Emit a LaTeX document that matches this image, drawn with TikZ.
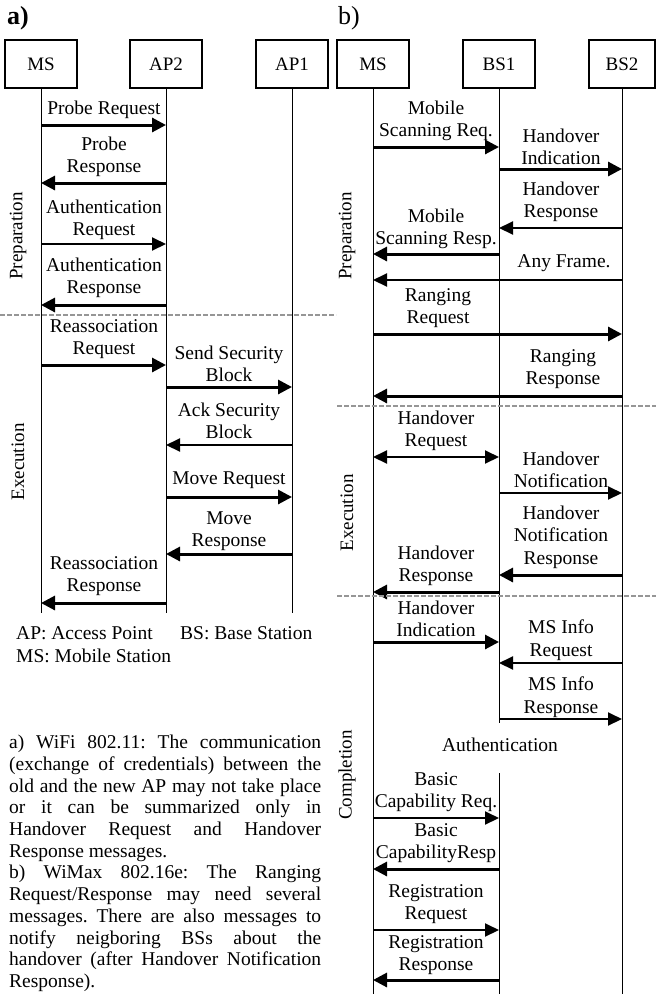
\documentclass[tikz,border=0pt]{standalone}
\usepackage{fontspec}
\setmainfont{Liberation Serif}
\usetikzlibrary{arrows.meta}
\definecolor{sepgray}{RGB}{150,150,150}

\tikzset{
  actor/.style={draw,line width=1.5pt,minimum width=72pt,minimum height=48pt,inner sep=0pt,font=\fontsize{19}{22}\selectfont},
  life/.style={line width=1pt},
  msg/.style={line width=3pt,-{Triangle[length=14pt,width=14pt]}},
  msgthin/.style={line width=2pt,-{Triangle[length=14pt,width=13pt]}},
  msgboth/.style={line width=2pt,{Triangle[length=14pt,width=13pt]}-{Triangle[length=14pt,width=13pt]}},
  lbl/.style={align=center,inner sep=0pt,font=\fontsize{19.5}{22.5}\selectfont},
  phase/.style={rotate=90,inner sep=0pt,font=\fontsize{19}{22}\selectfont},
  sep/.style={sepgray,line width=1.5pt,dash pattern=on 5pt off 2pt},
}

\begin{document}
\begin{tikzpicture}[x=1pt,y=-1pt]
\useasboundingbox (0,0) rectangle (656,994);

% a) WiFi 802.11
\node[font=\fontsize{26}{28}\selectfont\bfseries] (ta) at (18,18) {a)};
\foreach \n/\x/\t in {MSa/41/MS,AP2/166/AP2,AP1/292/AP1} {
  \node[actor] (\n) at (\x,64) {\t};
  \coordinate (\n-end) at (\x,613);
  \draw[life] (\n) -- (\n-end);
}
\foreach \y/\a/\b/\s/\lx/\ly/\t in {
  125/MSa/AP2/msg/104/110/{Probe Request},
  183/AP2/MSa/msg/104/157/{Probe\\Response},
  244/MSa/AP2/msgthin/104/220/{Authentication\\Request},
  305/AP2/MSa/msg/104/278/{Authentication\\Response},
  365/MSa/AP2/msg/104/339/{Reassociation\\Request},
  387/AP2/AP1/msg/229/364/{Send Security\\Block},
  445/AP1/AP2/msgthin/229/421/{Ack Security\\Block},
  497/AP2/AP1/msg/229/480/{Move Request},
  554/AP1/AP2/msg/229/531/{Move\\Response},
  603/AP2/MSa/msg/104/576/{Reassociation\\Response}} {
  \draw[\s] (\a |- 0,\y) -- (\b |- 0,\y);
  \node[lbl] (la\y) at (\lx,\ly) {\t};
}
\draw[sep] (0,315) -- (336,315);
\node[phase] (prepa) at (18,236) {Preparation};
\node[phase] (execa) at (18,462) {Execution};

% legend and notes
\node[lbl,anchor=west] (legap) at (16,633) {AP: Access Point};
\node[lbl,anchor=west] (legbs) at (180,633) {BS: Base Station};
\node[lbl,anchor=west] (legms) at (16,656) {MS: Mobile Station};
\node[anchor=north west,inner sep=0pt,text width=312pt,align=justify,
      font=\fontsize{19.5}{21.7}\selectfont] (notes) at (9,735)
  {\hyphenpenalty=10000\frenchspacing
   a) WiFi 802.11: The communication\linebreak
   (exchange of credentials) between the\linebreak
   old and the new AP may not take place\linebreak
   or it can be summarized only in\linebreak
   Handover Request and Handover\linebreak
   Response messages.\\
   b) WiMax 802.16e: The Ranging\linebreak
   Request/Response may need several\linebreak
   messages. There are also messages to\linebreak
   notify neigboring BSs about the\linebreak
   handover (after Handover Notification\linebreak
   Response).};

% b) WiMax 802.16e
\node[font=\fontsize{26}{28}\selectfont] (tb) at (349,18) {b)};
\node[actor] (MSb) at (373,64) {MS};
\node[actor] (BS1) at (499,64) {BS1};
\node[actor,minimum width=66pt] (BS2) at (622,64) {BS2};
\coordinate (MSb-end) at (373,994);
\coordinate (BS1-gap) at (499,723);
\coordinate (BS1-back) at (499,773);
\coordinate (BS1-end) at (499,994);
\coordinate (BS2-end) at (622,994);
\draw[life] (MSb) -- (MSb-end);
\draw[life] (BS1) -- (BS1-gap);
\draw[life] (BS1-back) -- (BS1-end);
\draw[life] (BS2) -- (BS2-end);
\foreach \y/\a/\b/\s/\lx/\ly/\t in {
  147/MSb/BS1/msg/436/121/{Mobile\\Scanning Req.},
  169/BS1/BS2/msg/561/147/{Handover\\Indication},
  228/BS2/BS1/msgthin/561/202/{Handover\\Response},
  254/BS1/MSb/msg/436/229/{Mobile\\Scanning Resp.},
  280/BS2/MSb/msgthin/564/263/{Any Frame.},
  334/MSb/BS2/msg/438/308/{Ranging\\Request},
  396/BS2/MSb/msg/563/369/{Ranging\\Response},
  457/MSb/BS1/msgboth/436/431/{Handover\\Request},
  493/BS1/BS2/msgthin/561/470/{Handover\\Notification},
  575/BS2/BS1/msg/561/537/{Handover\\Notification\\Response},
  592/BS1/MSb/msg/436/566/{Handover\\Response},
  642/MSb/BS1/msg/436/619/{Handover\\Indication},
  663/BS2/BS1/msgthin/561/640/{MS Info\\Request},
  719/BS1/BS2/msgthin/561/697/{MS Info\\Response},
  818/MSb/BS1/msgthin/436/792/{Basic\\Capability Req.},
  869/BS1/MSb/msg/436/843/{Basic\\CapabilityResp},
  930/MSb/BS1/msgthin/436/904/{Registration\\Request},
  980/BS1/MSb/msg/436/955/{Registration\\Response}} {
  \draw[\s] (\a |- 0,\y) -- (\b |- 0,\y);
  \node[lbl] (lb\y) at (\lx,\ly) {\t};
}
\node[lbl] (auth) at (500,745) {Authentication};
\draw[sep] (337,406) -- (656,406);
\draw[sep] (337,596) -- (656,596);
\node[phase] (prepb) at (347,236) {Preparation};
\node[phase] (execb) at (347,513) {Execution};
\node[phase] (compb) at (347,775) {Completion};
\end{tikzpicture}
\end{document}
